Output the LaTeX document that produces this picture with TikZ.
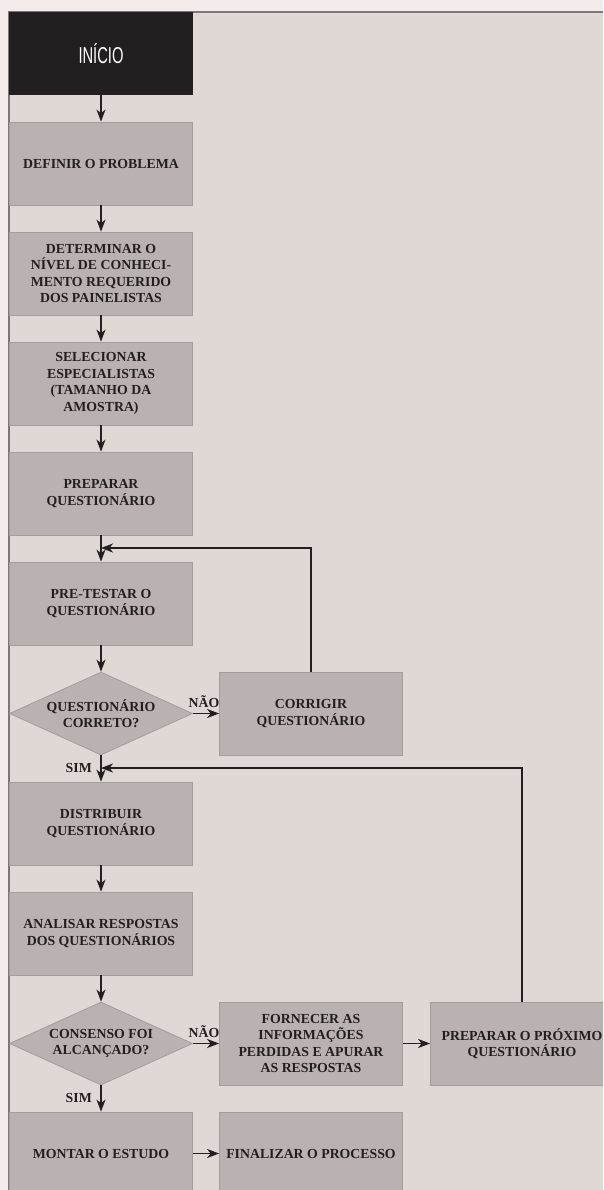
\documentclass[tikz,border=0pt]{standalone}
\usepackage{fontspec}
\setmainfont{Liberation Serif}
\setsansfont{Liberation Sans}
\usetikzlibrary{shapes.geometric,arrows.meta}
\definecolor{pagebg}{HTML}{F4ECEA}
\definecolor{panel}{HTML}{DFD8D5}
\definecolor{panelline}{HTML}{7D7775}
\definecolor{boxfill}{HTML}{B9B2B0}
\definecolor{boxline}{HTML}{A39D9B}
\definecolor{ink}{HTML}{231F20}
\tikzset{
  box/.style={draw=boxline,fill=boxfill,line width=0.8pt,minimum width=183pt,minimum height=83pt,
    inner sep=0pt,align=center,text=ink,font=\bfseries\fontsize{13.8}{16.5}\selectfont},
  choice/.style={box,diamond,aspect=2.2},
  lbl/.style={inner sep=0pt,text=ink,font=\bfseries\fontsize{13.8}{16.5}\selectfont},
  arr/.style={draw=ink,line width=1.6pt,-{Stealth[length=12pt,width=9pt,inset=3.5pt]}}
}
\begin{document}
\begin{tikzpicture}[x=1pt,y=-1pt]
    \useasboundingbox (0,0) rectangle (603,1190);
    \clip (0,0) rectangle (603,1190);
    \fill[pagebg] (0,0) rectangle (603,1190);
    \fill[panel] (9,12) rectangle (603,1190);
    \draw[panelline,line width=1.5pt] (603,12) -- (9,12) -- (9,1190);
    \node[fill=ink,minimum width=184pt,minimum height=83pt,inner sep=0pt,text=white,
        font=\sffamily\fontsize{23}{23}\selectfont] (ini) at (101,53.5) {\scalebox{0.64}[1]{INÍCIO}};
    \node[box] (b1) at (101,163.5) {DEFINIR O PROBLEMA};
    \node[box] (b2) at (101,273.5) {DETERMINAR O\\NÍVEL DE CONHECI-\\MENTO REQUERIDO\\DOS PAINELISTAS};
    \node[box] (b3) at (101,383.5) {SELECIONAR\\ESPECIALISTAS\\(TAMANHO DA\\AMOSTRA)};
    \node[box] (b4) at (101,493.5) {PREPARAR\\QUESTIONÁRIO};
    \node[box] (b5) at (101,603.5) {PRE-TESTAR O\\QUESTIONÁRIO};
    \node[choice] (d1) at (101,713.5) {QUESTIONÁRIO\\CORRETO?};
    \node[box] (c1) at (311,713.5) {CORRIGIR\\QUESTIONÁRIO};
    \node[box] (b6) at (101,823.5) {DISTRIBUIR\\QUESTIONÁRIO};
    \node[box] (b7) at (101,933.5) {ANALISAR RESPOSTAS\\DOS QUESTIONÁRIOS};
    \node[choice] (d2) at (101,1043.5) {CONSENSO FOI\\ALCANÇADO?};
    \node[box] (f1) at (311,1043.5) {FORNECER AS\\INFORMAÇÕES\\PERDIDAS E APURAR\\AS RESPOSTAS};
    \node[box] (p1) at (522,1043.5) {PREPARAR O PRÓXIMO\\QUESTIONÁRIO};
    \node[box] (m1) at (101,1153.5) {MONTAR O ESTUDO};
    \node[box] (e1) at (311,1153.5) {FINALIZAR O PROCESSO};
    \coordinate (j1) at (101,548);
    \coordinate (j2) at (101,768);
    \coordinate (j3) at (101,1098);
    \foreach \a/\b in {ini/b1,b1/b2,b2/b3,b3/b4,b4/b5,b5/d1,d1/b6,b6/b7,b7/d2,d2/m1,f1/p1,m1/e1}
        {\draw[arr] (\a) -- (\b);
        }
    \draw[arr] (c1.north) |- (j1);
    \draw[arr] (p1.north) |- (j2);
    \draw[arr] (d1) -- (c1) node[lbl,midway,above=5pt,xshift=-2pt] (no1) {NÃO};
    \draw[arr] (d2) -- (f1) node[lbl,midway,above=5pt,xshift=-2pt] (no2) {NÃO};
    \node[lbl,anchor=east] (yes1) at ([xshift=-9pt]j2) {SIM};
    \node[lbl,anchor=east] (yes2) at ([xshift=-9pt]j3) {SIM};
\end{tikzpicture}
\end{document}
